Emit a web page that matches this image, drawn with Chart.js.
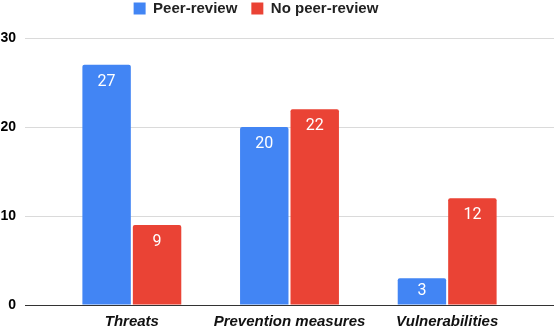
<!DOCTYPE html>
<html>
<head>
<meta charset="utf-8">
<script src="https://cdn.jsdelivr.net/npm/chart.js@4"></script>
<style>
  html, body { margin: 0; padding: 0; background: #fff; }
  #wrap { width: 554px; height: 328px; }
</style>
</head>
<body>
<div id="wrap"><canvas id="chart" width="554" height="328"></canvas></div>
<script>
const categories = ['Threats', 'Prevention measures', 'Vulnerabilities'];
const peerReview = [27, 20, 3];
const noPeerReview = [9, 22, 12];
const yTicks = [0, 10, 20, 30];

// white value labels inside the bars
const barLabels = {
    id: 'barLabels',
    afterDatasetsDraw(chart) {
        const ctx = chart.ctx;
        ctx.save();
        ctx.fillStyle = '#ffffff';
        ctx.font = '16px Roboto, "Liberation Sans", Arial, sans-serif';
        ctx.textAlign = 'center';
        ctx.textBaseline = 'middle';
        chart.data.datasets.forEach((ds, i) => {
            chart.getDatasetMeta(i).data.forEach((bar, j) => {
                const h = bar.base - bar.y;
                const y = h < 34 ? bar.y + h / 2 : bar.y + 17;
                ctx.fillText(String(ds.data[j]), bar.x, y);
            });
        });
        ctx.restore();
    }
};

// leave a gap between the legend and the plot, and nudge the legend left
const legendTweak = {
    id: 'legendTweak',
    beforeInit(chart) {
        const fit = chart.legend.fit;
        chart.legend.fit = function () {
            fit.bind(chart.legend)();
            this.height = 51;
        };
    },
    afterLayout(chart) {
        chart.legend.left -= 21;
        chart.legend.right -= 21;
    }
};

function gridColor(c) {
    return c.tick && c.tick.value === 0 ? '#333333' : '#dadada';
}

const ctx = document.getElementById('chart').getContext('2d');
const chart = new Chart(ctx, {
    type: 'bar',
    data: {
        labels: categories,
        datasets: [{
            label: 'Peer-review',
            data: peerReview,
            backgroundColor: '#4285F4',
            borderRadius: 2,
            borderSkipped: 'bottom'
        }, {
            label: 'No peer-review',
            data: noPeerReview,
            backgroundColor: '#EA4335',
            borderRadius: 2,
            borderSkipped: 'bottom'
        }]
    },
    options: {
        responsive: false,
        animation: false,
        categoryPercentage: 0.64,
        barPercentage: 0.96,
        layout: { padding: { top: -13, bottom: 0, left: 0, right: 0 } },
        scales: {
            x: {
                grid: { display: false, drawTicks: false },
                border: { display: false },
                afterFit: (axis) => { axis.height = 23; },
                ticks: {
                    color: '#111',
                    padding: 8,
                    maxRotation: 0,
                    minRotation: 0,
                    autoSkip: false,
                    font: { family: '"Liberation Sans", Arial, sans-serif', size: 15, weight: 'bold', style: 'italic' }
                }
            },
            y: {
                min: 0,
                max: 30,
                afterBuildTicks: (axis) => { axis.ticks = yTicks.map(v => ({ value: v })); },
                afterFit: (axis) => { axis.width = 53; },
                grid: { color: gridColor, tickLength: 28, lineWidth: 1 },
                border: { display: false },
                ticks: {
                    color: '#000',
                    padding: 9,
                    font: { family: '"Liberation Sans", Arial, sans-serif', size: 14, weight: 'bold' }
                }
            },
            yRight: {
                position: 'right',
                min: 0,
                max: 30,
                afterBuildTicks: (axis) => { axis.ticks = yTicks.map(v => ({ value: v })); },
                afterFit: (axis) => { axis.width = 28; },
                grid: { color: gridColor, tickLength: 28, drawOnChartArea: false },
                border: { display: false },
                ticks: { display: false }
            }
        },
        plugins: {
            legend: {
                position: 'top',
                labels: {
                    boxWidth: 12,
                    boxHeight: 12,
                    padding: 14,
                    color: '#222',
                    font: { family: '"Liberation Sans", Arial, sans-serif', size: 15, weight: 'bold' }
                }
            },
            tooltip: { enabled: false }
        }
    },
    plugins: [barLabels, legendTweak]
});
</script>
</body>
</html>
